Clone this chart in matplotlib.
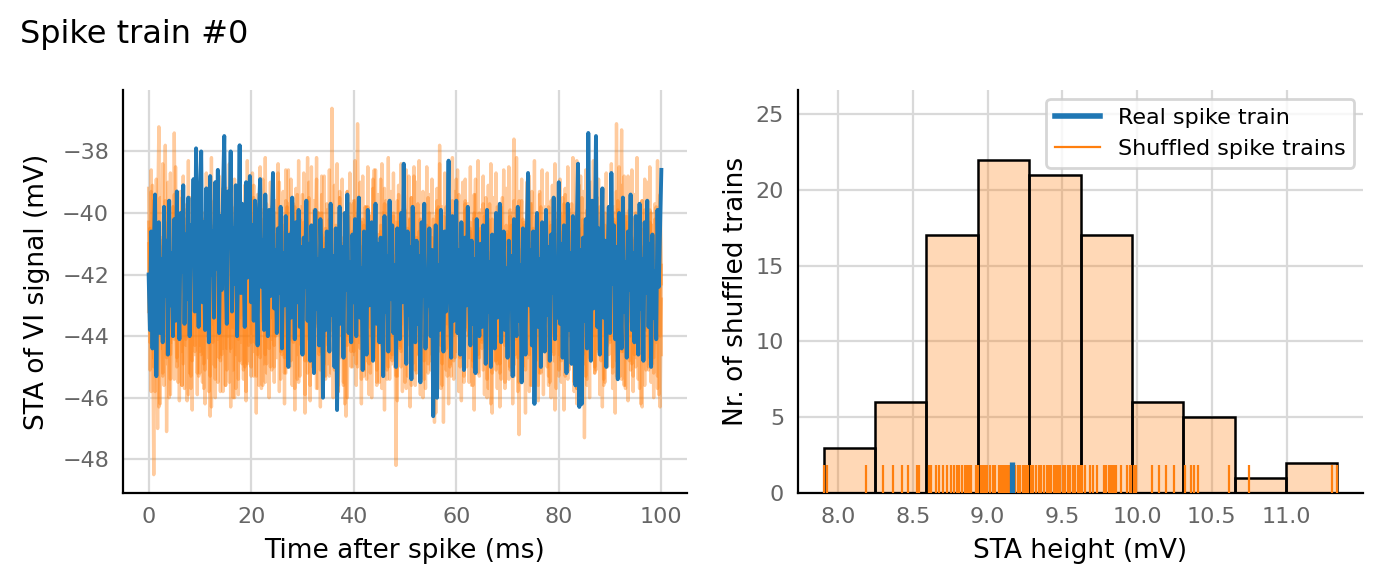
import numpy as np
import matplotlib
matplotlib.use("Agg")
import matplotlib.pyplot as plt
from matplotlib.lines import Line2D
import matplotlib.transforms as mtransforms

# STA of the real spike train (mV), one value every 0.25 ms from 0 to 100 ms
sta_real = np.array("""
-42.0 -43.8 -40.6 -44.4 -41.2 -39.4 -45.3 -42.1 -40.3 -43.9 -41.5 -44.2 -39.8 -42.7 -40.9 -44.6 -39.6 -43.0 -41.3 -44.0
-40.2 -43.5 -39.3 -42.4 -44.1 -40.0 -41.9 -39.1 -43.6 -40.7 -42.8 -39.5 -44.0 -40.4 -41.6 -38.9 -43.2 -37.9 -41.0 -43.7
-39.6 -38.0 -42.9 -40.3 -43.8 -39.2 -41.5 -44.2 -38.8 -42.0 -40.6 -43.4 -39.0 -41.8 -38.6 -43.9 -40.1 -42.5 -39.4 -37.5
-41.7 -43.6 -39.3 -41.0 -38.0 -43.2 -40.5 -42.3 -39.1 -44.0 -40.8 -37.8 -42.6 -39.7 -41.4 -43.7 -39.0 -42.1 -40.2 -38.8
-42.9 -40.4 -43.5 -39.6 -41.9 -44.3 -40.0 -38.9 -42.4 -40.9 -43.8 -39.4 -41.6 -44.0 -39.9 -42.7 -40.6 -38.7 -43.1 -41.2
-43.9 -40.5 -42.6 -39.8 -44.4 -41.3 -43.0 -40.1 -42.2 -45.0 -40.7 -43.4 -39.5 -41.8 -44.1 -40.3 -42.9 -39.9 -43.7 -41.1
-44.6 -40.8 -42.4 -39.6 -43.5 -41.0 -44.8 -40.4 -42.7 -45.2 -39.9 -43.1 -41.5 -44.3 -40.2 -42.0 -46.0 -41.2 -43.8 -40.6
-42.8 -44.5 -39.7 -43.3 -41.4 -45.0 -40.5 -46.4 -42.2 -39.8 -43.6 -41.1 -44.7 -40.0 -42.5 -39.4 -43.9 -41.6 -44.2 -40.7
-42.9 -40.2 -44.0 -41.3 -39.5 -43.4 -41.8 -45.1 -40.6 -42.3 -44.6 -39.9 -43.0 -41.5 -40.3 -44.8 -42.1 -39.7 -43.6 -41.0
-44.2 -40.8 -42.6 -45.3 -40.1 -43.2 -41.4 -44.5 -39.6 -42.8 -40.4 -43.9 -41.7 -45.0 -40.5 -42.4 -44.1 -40.0 -42.9 -38.4
-42.0 -44.9 -40.6 -43.3 -41.1 -45.4 -39.8 -42.6 -44.2 -40.9 -43.6 -41.4 -45.5 -40.3 -42.7 -39.7 -44.4 -41.9 -43.0 -40.5
-44.0 -41.2 -46.6 -42.5 -40.4 -46.0 -41.7 -43.8 -39.9 -42.9 -44.5 -40.6 -43.2 -41.0 -38.3 -42.6 -44.7 -40.1 -43.5 -41.6
-39.6 -43.9 -41.2 -44.6 -40.3 -42.8 -45.1 -40.8 -43.0 -39.8 -42.4 -44.3 -40.9 -43.6 -41.5 -45.2 -40.2 -42.7 -44.0 -41.0
-43.7 -40.4 -42.1 -44.9 -39.9 -43.2 -41.6 -45.0 -40.7 -42.5 -44.4 -40.0 -43.4 -41.3 -39.7 -44.2 -42.0 -40.6 -43.8 -41.8
-44.7 -40.9 -43.1 -41.4 -45.3 -40.2 -42.8 -44.0 -39.8 -43.5 -41.7 -45.5 -40.5 -42.3 -44.6 -40.8 -38.7 -43.0 -41.2 -44.3
-40.6 -46.2 -42.4 -40.0 -43.7 -41.5 -45.0 -40.3 -42.9 -44.5 -39.9 -43.3 -41.1 -44.8 -40.7 -42.6 -39.5 -44.1 -41.8 -43.4
-39.0 -43.6 -41.0 -44.7 -40.4 -42.5 -45.2 -39.7 -43.8 -41.3 -44.9 -40.1 -42.7 -45.6 -40.6 -38.4 -46.3 -41.2 -46.2 -40.8
-43.5 -40.2 -44.4 -37.4 -42.0 -44.8 -39.6 -43.1 -41.4 -37.5 -43.7 -40.5 -44.6 -41.0 -39.2 -43.4 -40.9 -45.0 -41.7 -39.8
-43.9 -38.7 -42.3 -40.4 -44.1 -41.1 -45.4 -40.0 -42.8 -44.4 -39.5 -43.2 -41.6 -44.7 -40.6 -42.5 -39.4 -43.8 -41.3 -44.2
-40.1 -42.9 -44.6 -39.7 -43.1 -41.5 -44.8 -40.3 -42.6 -39.6 -43.7 -41.0 -45.0 -40.7 -43.4 -41.9 -44.1 -39.9 -42.4 -40.5
-38.6
""".split(), dtype=float)

# STAs of four shuffled spike trains, same time grid
sta_shuffled_a = np.array("""
-41.0 -44.2 -39.3 -42.8 -48.5 -41.6 -44.9 -40.2 -37.2 -43.5 -40.8 -45.3 -42.1 -39.6 -47.1 -42.4 -40.0 -44.6 -41.3 -43.8
-37.4 -42.7 -45.0 -40.9 -43.9 -41.2 -45.6 -39.8 -42.5 -44.3 -40.4 -45.9 -42.0 -39.5 -44.8 -41.4 -43.3 -40.1 -45.2 -42.6
-44.5 -40.7 -43.1 -45.7 -41.9 -39.9 -44.0 -42.3 -46.6 -40.6 -43.6 -41.1 -45.4 -39.7 -42.9 -44.7 -40.3 -43.0 -45.8 -41.5
-40.2 -44.4 -42.2 -45.5 -39.4 -43.7 -41.8 -46.0 -40.5 -42.8 -44.1 -39.2 -43.4 -41.0 -45.1 -40.8 -42.4 -44.9 -39.6 -43.2
-45.3 -41.7 -39.1 -44.2 -42.5 -40.0 -45.6 -41.2 -43.5 -38.9 -42.9 -44.6 -40.4 -43.1 -41.5 -45.0 -39.8 -42.0 -44.3 -40.7
-43.8 -41.3 -39.0 -44.5 -40.6 -42.7 -45.2 -40.1 -43.3 -38.6 -42.2 -44.8 -41.0 -39.7 -43.6 -41.9 -45.4 -40.3 -42.6 -44.0
-39.4 -43.0 -46.5 -41.4 -38.2 -44.1 -40.9 -42.4 -45.0 -39.9 -43.7 -41.6 -40.0 -44.6 -42.1 -38.8 -43.4 -45.3 -40.5 -42.9
-44.3 -40.2 -42.6 -36.6 -41.1 -44.7 -40.4 -43.2 -45.6 -39.5 -42.3 -44.0 -40.8 -46.2 -41.7 -39.3 -43.9 -41.2 -44.5 -40.6
-42.8 -39.6 -43.5 -37.1 -41.9 -44.4 -40.3 -42.5 -45.1 -39.8 -43.0 -41.4 -44.9 -40.1 -42.7 -38.9 -43.8 -41.0 -45.5 -40.7
-43.3 -41.6 -38.4 -44.2 -40.5 -42.9 -45.4 -39.7 -43.6 -41.3 -44.6 -40.0 -42.2 -48.2 -41.8 -39.4 -43.1 -45.0 -40.9 -42.4
-39.9 -44.3 -41.5 -43.7 -40.2 -45.6 -42.0 -38.5 -44.0 -41.1 -43.4 -40.6 -45.2 -41.7 -39.3 -44.8 -42.6 -40.4 -43.5 -41.0
-45.1 -40.8 -43.0 -46.8 -41.4 -39.6 -44.5 -37.8 -42.3 -44.9 -40.1 -43.6 -41.2 -45.3 -39.8 -42.7 -44.2 -40.5 -43.9 -41.6
-38.9 -43.3 -41.0 -44.7 -40.3 -42.5 -45.5 -39.7 -43.8 -41.5 -44.0 -40.6 -42.2 -45.0 -39.4 -43.1 -41.8 -44.6 -40.0 -42.9
-44.4 -40.7 -43.2 -39.5 -42.6 -45.7 -41.3 -46.2 -40.2 -43.6 -41.1 -44.8 -39.8 -42.4 -45.2 -40.9 -43.0 -41.7 -44.3 -40.4
-42.0 -45.4 -39.9 -43.5 -41.2 -37.6 -44.1 -40.8 -42.7 -47.2 -41.4 -39.6 -43.7 -41.0 -45.1 -40.3 -42.5 -44.6 -39.7 -43.2
-41.5 -44.9 -40.1 -42.8 -45.6 -39.3 -43.4 -41.1 -44.2 -40.6 -42.3 -45.0 -39.8 -43.8 -41.6 -44.5 -40.4 -46.4 -42.1 -40.0
-43.6 -41.3 -44.8 -39.5 -42.9 -45.3 -40.7 -43.1 -41.8 -44.0 -39.7 -42.4 -45.5 -41.0 -38.3 -43.9 -40.5 -42.6 -44.7 -40.2
-47.3 -41.4 -39.9 -43.3 -41.0 -44.5 -40.3 -42.8 -45.2 -39.6 -43.7 -41.5 -44.1 -40.8 -42.2 -45.4 -40.0 -43.0 -41.7 -44.6
-40.4 -42.5 -45.0 -39.8 -43.5 -37.1 -41.9 -44.3 -40.6 -37.3 -42.7 -45.6 -40.1 -43.2 -41.2 -44.8 -39.5 -42.9 -45.3 -40.9
-43.4 -41.6 -44.4 -39.7 -42.0 -46.3 -41.1 -43.8 -40.5 -42.6 -45.1 -39.9 -43.1 -41.3 -44.7 -40.2 -42.8 -45.7 -41.0 -39.4
-42.3
""".split(), dtype=float)
sta_shuffled_b = np.array("""
-43.2 -40.5 -45.8 -42.0 -39.6 -44.4 -41.7 -47.0 -40.8 -43.6 -41.1 -45.2 -39.9 -42.9 -44.7 -40.3 -43.0 -45.9 -41.4 -39.8
-44.1 -42.3 -40.6 -45.5 -41.9 -43.8 -39.5 -44.9 -42.6 -40.2 -46.1 -41.3 -43.4 -45.7 -40.9 -42.8 -44.3 -39.7 -43.1 -45.3
-41.0 -44.6 -42.4 -40.0 -45.1 -43.3 -39.4 -44.0 -41.6 -46.3 -42.7 -40.4 -45.0 -41.8 -43.9 -40.7 -44.8 -42.1 -39.2 -43.5
-45.6 -41.2 -43.7 -40.3 -44.5 -42.5 -46.0 -40.8 -43.0 -41.5 -45.4 -39.8 -42.2 -44.9 -40.6 -43.6 -45.8 -41.0 -42.9 -40.1
-44.2 -41.9 -39.5 -43.8 -45.3 -40.9 -42.6 -44.7 -40.2 -43.1 -41.4 -45.5 -39.7 -42.8 -44.4 -40.5 -43.4 -41.7 -45.0 -40.0
-42.5 -38.7 -43.9 -41.3 -44.6 -40.4 -42.9 -45.2 -39.8 -43.5 -41.0 -44.1 -40.7 -42.3 -45.7 -41.5 -39.4 -43.7 -40.9 -44.3
-42.0 -40.3 -44.8 -41.8 -39.6 -43.2 -45.6 -40.6 -42.7 -44.4 -41.1 -38.9 -43.6 -41.4 -45.1 -40.0 -42.4 -44.9 -40.8 -43.0
-41.2 -45.3 -39.9 -43.8 -41.6 -44.2 -40.5 -42.5 -45.8 -39.3 -43.3 -41.0 -44.6 -40.7 -42.8 -46.0 -41.3 -39.7 -43.9 -41.8
-44.5 -40.2 -42.6 -45.0 -39.5 -43.4 -41.1 -44.8 -40.4 -42.2 -45.4 -39.8 -43.7 -41.5 -44.0 -40.9 -38.6 -43.1 -45.6 -41.0
-42.9 -40.6 -44.3 -41.7 -39.2 -43.5 -45.1 -40.1 -42.4 -44.7 -40.8 -43.0 -41.4 -45.3 -39.6 -42.7 -44.4 -40.3 -43.6 -41.2
-45.5 -40.7 -42.3 -38.8 -43.8 -41.3 -44.9 -40.0 -42.8 -45.2 -39.7 -43.3 -41.6 -44.1 -40.5 -42.5 -45.7 -41.0 -39.5 -43.9
-41.5 -44.6 -40.2 -42.9 -45.4 -39.9 -43.4 -41.1 -44.3 -40.6 -46.8 -42.2 -39.8 -43.6 -41.4 -45.0 -40.4 -42.6 -44.8 -40.9
-43.1 -41.7 -39.4 -44.5 -40.8 -42.4 -45.3 -39.6 -43.7 -41.2 -44.0 -40.3 -42.7 -45.6 -41.0 -38.9 -43.5 -41.6 -44.7 -40.5
-42.8 -45.1 -40.1 -43.2 -41.5 -44.4 -39.7 -42.3 -46.5 -40.7 -43.0 -41.3 -44.9 -40.0 -42.5 -45.4 -39.5 -43.8 -41.1 -44.2
-40.6 -42.9 -45.0 -40.4 -43.4 -41.8 -44.6 -39.9 -42.1 -45.5 -41.2 -43.7 -40.2 -42.6 -44.3 -40.8 -43.1 -45.8 -41.4 -39.3
-43.6 -41.0 -44.8 -40.5 -42.4 -45.2 -39.8 -43.3 -41.7 -44.5 -40.3 -42.8 -45.6 -41.1 -39.6 -43.9 -41.5 -44.1 -40.7 -42.2
-45.3 -40.0 -43.5 -41.3 -44.7 -39.4 -42.7 -45.0 -40.6 -43.2 -41.6 -44.4 -40.2 -42.5 -45.7 -41.0 -39.1 -43.7 -41.9 -44.6
-40.4 -42.9 -45.4 -39.7 -43.3 -41.2 -44.0 -40.8 -42.3 -45.1 -39.5 -43.6 -41.4 -44.8 -40.1 -42.6 -45.5 -41.7 -43.0 -40.5
-44.2 -41.1 -43.8 -40.3 -42.7 -45.3 -39.9 -43.4 -41.5 -44.5 -40.7 -42.2 -45.7 -41.0 -38.8 -43.5 -41.8 -44.9 -40.2 -42.8
-45.0 -40.6 -43.1 -41.4 -44.4 -39.6 -42.5 -45.6 -40.9 -43.7 -41.3 -44.7 -40.0 -42.9 -45.2 -41.6 -39.8 -43.3 -41.1 -44.0
-41.7
""".split(), dtype=float)
sta_shuffled_c = np.array("""
-40.3 -43.7 -41.5 -39.1 -45.0 -42.2 -40.7 -44.3 -41.9 -46.2 -40.9 -43.2 -41.0 -37.8 -44.6 -42.5 -40.1 -45.4 -41.6 -43.9
-39.4 -42.8 -44.7 -40.6 -43.3 -41.2 -45.6 -40.0 -42.6 -44.1 -39.7 -43.5 -41.8 -45.3 -40.4 -42.9 -44.5 -39.9 -43.0 -41.4
-45.2 -40.8 -42.4 -44.9 -40.2 -43.6 -41.7 -45.8 -40.5 -42.7 -44.2 -39.6 -43.1 -41.3 -45.5 -40.9 -42.3 -44.6 -40.1 -43.4
-41.9 -45.1 -40.4 -42.9 -44.4 -39.8 -43.7 -41.1 -45.7 -40.7 -42.5 -44.8 -40.3 -43.3 -41.6 -45.0 -39.5 -42.2 -44.3 -40.6
-43.9 -41.4 -45.3 -40.0 -42.7 -44.6 -39.7 -43.2 -41.0 -45.6 -40.8 -42.4 -44.9 -40.3 -43.5 -41.7 -45.1 -39.9 -42.6 -44.0
-40.5 -43.0 -41.5 -45.4 -40.1 -42.3 -44.7 -39.6 -43.8 -41.2 -45.0 -40.6 -42.8 -44.2 -39.8 -43.4 -41.9 -45.5 -40.2 -42.5
-44.4 -40.9 -43.1 -41.3 -45.2 -39.5 -42.6 -44.8 -40.4 -43.6 -41.8 -45.7 -40.0 -42.2 -44.5 -40.7 -43.3 -41.0 -45.3 -39.7
-42.9 -44.1 -40.3 -43.5 -41.6 -45.1 -40.8 -42.4 -44.6 -39.9 -43.0 -41.4 -45.6 -40.5 -42.7 -44.3 -40.1 -43.7 -41.2 -45.0
-39.6 -42.5 -44.9 -40.6 -43.2 -41.5 -45.4 -40.2 -42.8 -44.4 -39.8 -43.6 -41.1 -45.2 -40.7 -42.3 -44.7 -40.0 -43.4 -41.7
-45.5 -40.4 -42.9 -44.2 -39.7 -43.3 -41.3 -45.0 -40.9 -42.6 -44.8 -40.1 -43.8 -41.6 -45.3 -40.3 -42.4 -44.5 -39.9 -43.1
-41.0 -45.7 -40.5 -42.7 -44.3 -39.5 -43.5 -41.8 -45.1 -40.8 -42.2 -44.6 -40.2 -43.0 -41.4 -45.4 -40.6 -42.8 -44.9 -40.0
-43.6 -41.2 -45.2 -40.4 -42.5 -44.0 -39.8 -43.2 -41.7 -45.6 -40.7 -42.9 -44.4 -40.1 -43.7 -41.0 -45.3 -39.6 -42.3 -44.7
-40.3 -43.4 -41.5 -45.0 -40.9 -42.6 -44.5 -39.9 -43.1 -41.3 -45.5 -40.5 -42.4 -44.8 -40.0 -43.6 -41.8 -45.2 -40.6 -42.7
-44.2 -39.7 -43.3 -41.1 -45.4 -40.2 -42.8 -44.6 -40.8 -43.5 -41.6 -45.1 -40.4 -42.2 -44.9 -39.8 -43.0 -41.4 -45.7 -40.7
-42.5 -44.3 -40.1 -43.7 -41.2 -45.3 -40.6 -42.9 -44.7 -39.6 -43.4 -41.7 -45.0 -40.3 -42.4 -44.1 -40.9 -43.2 -41.0 -45.6
-40.5 -42.7 -44.8 -40.0 -43.6 -41.5 -45.2 -40.7 -42.3 -44.4 -39.9 -43.1 -41.3 -45.5 -40.4 -42.8 -44.6 -40.2 -43.8 -41.1
-45.1 -40.6 -42.5 -44.2 -39.7 -43.3 -41.8 -45.4 -40.1 -42.9 -44.9 -40.5 -43.5 -41.2 -45.7 -40.8 -42.6 -44.0 -39.5 -43.0
-41.6 -45.3 -40.3 -42.4 -44.7 -40.0 -43.7 -41.4 -45.0 -40.9 -42.2 -44.5 -39.8 -43.2 -41.0 -45.6 -40.4 -42.8 -44.3 -40.7
-43.4 -41.3 -45.2 -40.2 -42.6 -44.8 -39.6 -43.0 -41.7 -45.4 -40.6 -42.3 -44.1 -40.1 -43.6 -41.2 -45.1 -40.8 -42.9 -44.6
-40.0 -43.3 -41.5 -45.7 -40.5 -42.7 -44.4 -39.9 -43.8 -41.1 -45.0 -40.3 -42.5 -44.9 -40.7 -43.5 -41.8 -45.3 -40.2 -46.3
-42.8
""".split(), dtype=float)
sta_shuffled_d = np.array("""
-39.2 -45.1 -38.6 -44.7 -40.1 -45.8 -38.9 -43.9 -46.3 -39.5 -44.4 -38.4 -45.6 -40.3 -44.9 -39.0 -46.0 -38.7 -44.2 -39.8
-45.4 -38.5 -44.8 -40.0 -46.1 -39.3 -44.5 -38.8 -45.7 -39.9 -44.0 -38.3 -45.2 -40.4 -46.4 -39.1 -44.6 -38.6 -45.9 -39.6
-44.3 -38.9 -45.5 -40.2 -46.2 -38.7 -44.7 -39.4 -45.3 -38.2 -44.9 -40.5 -46.0 -39.0 -44.1 -38.8 -45.8 -39.7 -44.4 -38.5
-45.6 -39.2 -44.0 -38.4 -46.3 -40.1 -45.1 -38.9 -44.6 -39.5 -45.9 -38.6 -44.2 -40.3 -45.4 -39.1 -46.1 -38.3 -44.8 -39.8
-45.0 -38.7 -44.5 -40.0 -46.5 -39.4 -44.3 -38.5 -45.7 -39.9 -44.9 -38.2 -45.2 -40.4 -46.0 -39.0 -44.1 -38.8 -45.5 -39.6
-44.7 -38.4 -45.8 -40.2 -44.0 -39.3 -46.2 -38.6 -45.0 -39.7 -44.4 -38.9 -45.6 -40.1 -46.4 -39.2 -44.6 -38.3 -45.3 -39.8
-44.2 -38.7 -45.9 -40.5 -44.8 -39.0 -46.1 -38.5 -45.1 -39.6 -44.5 -38.2 -45.7 -40.0 -46.3 -39.4 -44.0 -38.8 -45.4 -39.9
-44.9 -38.6 -45.2 -40.3 -46.0 -39.1 -44.3 -38.4 -45.8 -39.5 -44.7 -38.9 -45.5 -40.2 -46.6 -39.3 -44.1 -38.7 -45.0 -39.7
-44.6 -38.3 -45.6 -40.4 -44.2 -39.0 -46.2 -38.8 -45.3 -39.8 -44.8 -38.5 -45.9 -40.1 -46.0 -39.2 -44.4 -38.6 -45.1 -39.4
-44.0 -38.9 -45.7 -40.0 -46.4 -39.6 -44.5 -38.2 -45.4 -39.3 -44.9 -38.7 -45.0 -40.3 -46.1 -39.1 -44.3 -38.4 -45.8 -39.9
-44.7 -38.6 -45.3 -40.2 -46.3 -39.5 -44.1 -38.8 -45.6 -39.0 -44.6 -38.3 -45.9 -40.4 -46.0 -39.7 -44.2 -38.5 -45.2 -39.4
-44.8 -38.9 -45.5 -40.1 -46.5 -39.2 -44.4 -38.4 -45.7 -39.8 -44.0 -38.7 -45.1 -40.0 -46.2 -39.6 -44.9 -38.2 -45.4 -39.3
-44.5 -38.6 -45.8 -40.3 -46.1 -39.0 -44.2 -38.9 -45.0 -39.7 -44.7 -38.5 -45.6 -40.2 -46.4 -39.4 -44.3 -38.3 -45.3 -39.9
-44.1 -38.8 -45.9 -40.5 -46.0 -39.1 -44.6 -38.4 -45.2 -39.5 -44.8 -38.7 -45.7 -40.1 -46.3 -39.8 -44.0 -38.6 -45.5 -39.2
-44.4 -38.5 -45.1 -40.0 -46.2 -39.6 -44.9 -38.2 -45.8 -39.3 -44.3 -38.9 -45.4 -40.4 -46.5 -39.0 -44.7 -38.8 -45.6 -39.7
-44.2 -38.3 -45.0 -40.2 -46.1 -39.4 -44.5 -38.6 -45.9 -39.8 -44.1 -38.7 -45.3 -40.3 -46.0 -39.1 -44.8 -38.4 -45.7 -39.5
-44.6 -38.9 -45.5 -40.1 -46.4 -39.2 -44.0 -38.5 -45.1 -39.9 -44.7 -38.2 -45.8 -40.0 -46.2 -39.6 -44.3 -38.8 -45.4 -39.3
-44.9 -38.6 -45.6 -40.4 -46.0 -39.0 -44.2 -38.3 -45.2 -39.7 -44.4 -38.9 -45.9 -40.2 -46.3 -39.5 -44.6 -38.7 -45.0 -39.8
-44.1 -38.4 -45.7 -40.0 -46.5 -39.3 -44.8 -38.5 -45.3 -39.1 -44.5 -38.8 -45.6 -40.3 -46.1 -39.9 -44.0 -38.6 -45.8 -39.4
-44.7 -38.2 -45.4 -40.1 -46.2 -39.6 -44.3 -38.9 -45.1 -39.0 -44.9 -38.5 -45.5 -40.4 -46.0 -39.7 -44.2 -38.3 -45.9 -39.2
-44.6
""".split(), dtype=float)
shuffled_traces = [sta_shuffled_a, sta_shuffled_b, sta_shuffled_c, sta_shuffled_d]

# STA heights (mV) of the 100 shuffled trains and of the real train
shuffled_heights = [
    7.904, 7.925, 8.188,
    8.300, 8.365, 8.427, 8.465, 8.525, 8.545,
    8.609, 8.622, 8.653, 8.678, 8.704, 8.729, 8.755, 8.776, 8.799, 8.811,
    8.832, 8.847, 8.857, 8.870, 8.878, 8.888, 8.921,
    8.939, 8.955, 8.973, 8.986, 8.998, 9.016, 9.037, 9.050, 9.075, 9.093,
    9.106, 9.119, 9.132, 9.145, 9.170, 9.186, 9.204, 9.217, 9.234, 9.250,
    9.263, 9.273,
    9.288, 9.306, 9.324, 9.345, 9.360, 9.375, 9.396, 9.409, 9.427, 9.442,
    9.457, 9.473, 9.488, 9.503, 9.519, 9.537, 9.555, 9.570, 9.588, 9.603,
    9.616,
    9.631, 9.652, 9.683, 9.708, 9.729, 9.780, 9.795, 9.811, 9.821, 9.831,
    9.842, 9.852, 9.862, 9.895, 9.934, 9.954, 9.960,
    9.980, 9.995, 10.100, 10.144, 10.195, 10.250,
    10.323, 10.364, 10.384, 10.408, 10.612,
    10.748,
    11.304, 11.340,
]
real_height = 9.162

blue = "#1f77b4"
orange = "#ff7f0e"
tick_grey = "#666666"

plt.rcParams["font.family"] = "DejaVu Sans"

fig = plt.figure(figsize=(6.91, 2.915), dpi=200)
ax1 = fig.add_axes([0.089, 0.1544, 0.4081, 0.6912])
ax2 = fig.add_axes([0.5774, 0.1544, 0.4089, 0.6912])

# left: STA traces
for trace in shuffled_traces:
    t = np.linspace(0, 100, len(trace))
    ax1.plot(t, trace, color=orange, alpha=0.4, lw=1.2, zorder=2)
t = np.linspace(0, 100, len(sta_real))
ax1.plot(t, sta_real, color=blue, lw=1.4, zorder=3)
ax1.set_xticks([0, 20, 40, 60, 80, 100])
ax1.set_yticks([-48, -46, -44, -42, -40, -38])
ax1.set_xlabel("Time after spike (ms)", fontsize=9.5, labelpad=4)
ax1.set_ylabel("STA of VI signal (mV)", fontsize=9.5, labelpad=4.5)

# right: histogram of shuffled STA heights + rug
ax2.hist(shuffled_heights, bins=10, color=orange, alpha=0.3, zorder=2)
ax2.hist(shuffled_heights, bins=10, fill=False, edgecolor="black",
         lw=0.9, zorder=3)
trans = mtransforms.blended_transform_factory(ax2.transData, ax2.transAxes)
ax2.vlines(shuffled_heights, 0, 0.07, color=orange, lw=0.8,
           transform=trans, zorder=4)
ax2.vlines([real_height], 0, 0.077, color=blue, lw=1.9,
           transform=trans, zorder=5)
ax2.set_ylim(0, 26.6)
ax2.set_xticks([8.0, 8.5, 9.0, 9.5, 10.0, 10.5, 11.0])
ax2.set_yticks([0, 5, 10, 15, 20, 25])
ax2.set_xlabel("STA height (mV)", fontsize=9.5, labelpad=4)
ax2.set_ylabel("Nr. of shuffled trains", fontsize=9.5, labelpad=2.5)

handles = [Line2D([], [], color=blue, lw=2.0),
           Line2D([], [], color=orange, lw=0.8)]
ax2.legend(handles, ["Real spike train", "Shuffled spike trains"],
           loc="upper right", fontsize=8, framealpha=0.8,
           edgecolor="#cccccc", borderaxespad=0.4, handlelength=2.0)

for ax in (ax1, ax2):
    ax.grid(True, color="#d9d9d9", lw=0.8, zorder=0)
    ax.set_axisbelow(True)
    ax.spines["top"].set_visible(False)
    ax.spines["right"].set_visible(False)
    for side in ("left", "bottom"):
        ax.spines[side].set_linewidth(0.8)
        ax.spines[side].set_color("black")
    ax.tick_params(length=0, pad=5, labelsize=8, labelcolor=tick_grey)

fig.text(20 / 1382, 1 - 42.7 / 583, "Spike train #0", fontsize=11.5,
         ha="left", va="baseline")

fig.savefig("out.png", dpi=200)
